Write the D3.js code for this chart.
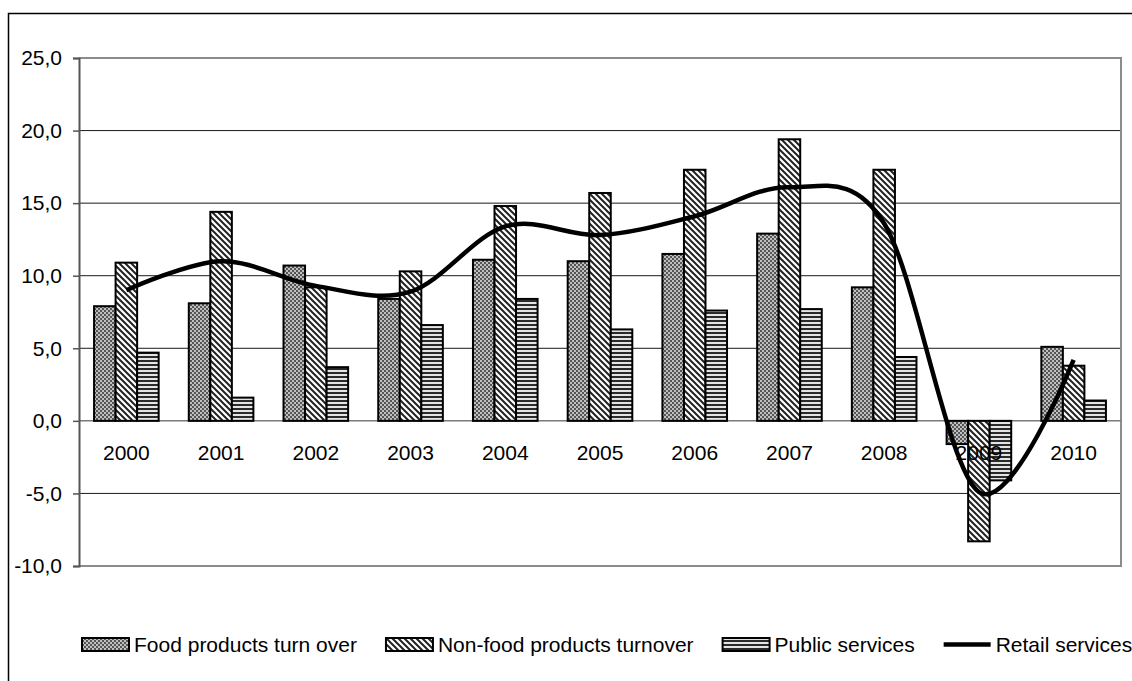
<!DOCTYPE html>
<html>
<head>
<meta charset="utf-8">
<script src="https://cdn.jsdelivr.net/npm/d3@7"></script>
<style>
  body { margin: 0; background: #fff; }
  svg { display: block; }
  text { font-family: "Liberation Sans", Arial, sans-serif; font-size: 21px; fill: #000; }
</style>
</head>
<body>
<div id="chart"></div>
<script>
// Data
const years = ["2000", "2001", "2002", "2003", "2004", "2005", "2006", "2007", "2008", "2009", "2010"];
const foodTurnover = [7.9, 8.1, 10.7, 8.4, 11.1, 11.0, 11.5, 12.9, 9.2, -1.6, 5.1];
const nonFoodTurnover = [10.9, 14.4, 9.2, 10.3, 14.8, 15.7, 17.3, 19.4, 17.3, -8.3, 3.8];
const publicServices = [4.7, 1.6, 3.7, 6.6, 8.4, 6.3, 7.6, 7.7, 4.4, -4.1, 1.4];
const retailServices = [9.0, 11.0, 9.3, 8.9, 13.4, 12.8, 14.1, 16.1, 13.6, -4.9, 4.2];
const yTicks = [-10, -5, 0, 5, 10, 15, 20, 25];
const barSeries = ["Food products turn over", "Non-food products turnover", "Public services"];
const lineSeries = "Retail services";

const W = 1132, H = 681;
const plot = {left: 79, right: 1121, top: 58, bottom: 566};

const svg = d3.select("#chart").append("svg")
  .attr("width", W)
  .attr("height", H);

// Fill patterns
const defs = svg.append("defs");
const pDots = defs.append("pattern").attr("id", "pat0")
  .attr("patternUnits", "userSpaceOnUse").attr("width", 4).attr("height", 4);
pDots.append("rect").attr("width", 4).attr("height", 4).attr("fill", "#555");
pDots.append("rect").attr("width", 2).attr("height", 2).attr("fill", "#c0c0c0");
pDots.append("rect").attr("x", 2).attr("y", 2).attr("width", 2).attr("height", 2).attr("fill", "#c0c0c0");

const pDiag = defs.append("pattern").attr("id", "pat1")
  .attr("patternUnits", "userSpaceOnUse").attr("width", 6).attr("height", 6);
pDiag.append("rect").attr("width", 6).attr("height", 6).attr("fill", "#fff");
pDiag.append("path").attr("d", "M-1,-1L7,7M-1,5L1,7M5,-1L7,1")
  .attr("stroke", "#222").attr("stroke-width", 2);

const pHoriz = defs.append("pattern").attr("id", "pat2")
  .attr("patternUnits", "userSpaceOnUse").attr("width", 4).attr("height", 4);
pHoriz.append("rect").attr("width", 4).attr("height", 4).attr("fill", "#e4e4e4");
pHoriz.append("rect").attr("width", 4).attr("height", 2).attr("fill", "#2a2a2a");

const fills = ["url(#pat0)", "url(#pat1)", "url(#pat2)"];

// Outer chart border (left and top visible)
svg.append("path")
  .attr("d", `M8.5,${H}V13.5H${W}`)
  .attr("fill", "none").attr("stroke", "#000").attr("stroke-width", 1.5);

// Scales
const x = d3.scaleBand().domain(years).range([plot.left, plot.right]).padding(0);
const y = d3.scaleLinear().domain([-10, 25]).range([plot.bottom, plot.top]);
const groupW = x.bandwidth() * 0.682;
const xs = d3.scaleBand().domain(d3.range(3)).range([0, groupW]);

const fmt = d3.formatLocale({decimal: ",", thousands: ".", grouping: [3], currency: ["", ""], minus: "-"}).format(".1f");

// Gridlines
svg.append("g").selectAll("line")
  .data(yTicks.filter(t => t !== -10 && t !== 25 && t !== 0))
  .join("line")
  .attr("x1", plot.left).attr("x2", plot.right)
  .attr("y1", d => y(d)).attr("y2", d => y(d))
  .attr("stroke", "#1a1a1a").attr("stroke-width", 1);

// Plot frame (gray top, right, bottom)
svg.append("path")
  .attr("d", `M${plot.left},${y(25)}H${plot.right}V${y(-10)}H${plot.left}`)
  .attr("fill", "none").attr("stroke", "#8c8c8c").attr("stroke-width", 2);

// Zero line
svg.append("line")
  .attr("x1", plot.left).attr("x2", plot.right)
  .attr("y1", y(0)).attr("y2", y(0))
  .attr("stroke", "#7a7a7a").attr("stroke-width", 1.5);

// Y axis
const yAxis = svg.append("g")
  .attr("transform", `translate(${plot.left},0)`)
  .call(d3.axisLeft(y).tickValues(yTicks).tickSize(6).tickPadding(11).tickFormat(fmt));
yAxis.select(".domain").attr("stroke", "#555").attr("stroke-width", 2);
yAxis.selectAll(".tick line").attr("stroke", "#555").attr("stroke-width", 1.5);
yAxis.selectAll("text")
  .style("font-family", '"Liberation Sans", Arial, sans-serif')
  .style("font-size", "21px").attr("fill", "#000");

// Bars
const seriesValues = [foodTurnover, nonFoodTurnover, publicServices];
seriesValues.forEach((vals, si) => {
  svg.append("g").selectAll("rect")
    .data(vals)
    .join("rect")
    .attr("x", (d, i) => x(years[i]) + (x.bandwidth() - groupW) / 2 + xs(si))
    .attr("y", d => y(Math.max(0, d)))
    .attr("width", xs.bandwidth())
    .attr("height", d => Math.abs(y(d) - y(0)))
    .attr("fill", fills[si])
    .attr("stroke", "#000")
    .attr("stroke-width", 2);
});

// Category labels
svg.append("g").selectAll("text")
  .data(years)
  .join("text")
  .attr("x", d => x(d) + x.bandwidth() / 2)
  .attr("y", 460)
  .attr("text-anchor", "middle")
  .text(d => d);

// Retail services smooth line
const line = d3.line()
  .x((d, i) => x(years[i]) + x.bandwidth() / 2)
  .y(d => y(d))
  .curve(d3.curveCardinal.tension(0));
svg.append("path")
  .datum(retailServices)
  .attr("fill", "none")
  .attr("stroke", "#000")
  .attr("stroke-width", 4.5)
  .attr("d", line);

// Legend
const legend = svg.append("g");
const legendItems = barSeries.concat([lineSeries]);
let lx = 82;
const swW = 47, swH = 13, swY = 638, textY = 652;
legendItems.forEach((name, i) => {
  if (i < 3) {
    legend.append("rect")
      .attr("x", lx).attr("y", swY)
      .attr("width", swW).attr("height", swH)
      .attr("fill", fills[i]).attr("stroke", "#000").attr("stroke-width", 2);
  } else {
    legend.append("line")
      .attr("x1", lx).attr("x2", lx + swW)
      .attr("y1", swY + swH / 2).attr("y2", swY + swH / 2)
      .attr("stroke", "#000").attr("stroke-width", 4.5);
  }
  const t = legend.append("text")
    .attr("x", lx + swW + 5).attr("y", textY)
    .text(name);
  lx += swW + 5 + t.node().getComputedTextLength() + 29;
});
</script>
</body>
</html>
